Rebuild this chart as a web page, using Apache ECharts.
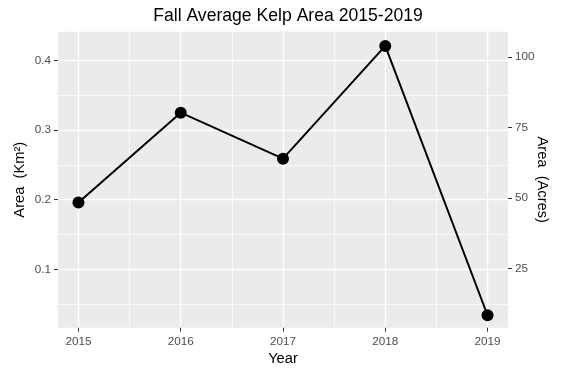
<!DOCTYPE html>
<html>
<head>
<meta charset="utf-8">
<script src="https://cdn.jsdelivr.net/npm/echarts@6/dist/echarts.min.js"></script>
<style>html,body{margin:0;padding:0;background:#fff}#c{width:562px;height:373px}</style>
</head>
<body>
<div id="c"></div>
<script>
var years = [2015, 2016, 2017, 2018, 2019];
var areaKm2 = [0.196, 0.325, 0.259, 0.421, 0.034];
var xTicks = [2015, 2016, 2017, 2018, 2019];
var xMinor = [2015.5, 2016.5, 2017.5, 2018.5];
var yTicks = [0.1, 0.2, 0.3, 0.4];
var yMinor = [0.05, 0.15, 0.25, 0.35];
var acreTicks = [25, 50, 75, 100];
var KM2_TO_ACRES = 247.105;

var yMin = 0.0161, yMax = 0.4414;
var font = "'Liberation Sans', Arial, sans-serif";
var chart = echarts.init(document.getElementById('c'), null, {renderer: 'canvas'});
var labelStyle = {color: '#4D4D4D', fontSize: 11.7, fontFamily: font};
var nameStyle = {color: '#000', fontSize: 14.7, fontFamily: font};

chart.setOption({
  animation: false,
  title: {
    text: 'Fall Average Kelp Area 2015-2019',
    left: 283, top: 2, textAlign: 'center',
    textStyle: {color: '#000', fontSize: 17.6, fontWeight: 'normal', fontFamily: font}
  },
  grid: {left: 58, right: 54, top: 31.7, bottom: 45.3, show: true, backgroundColor: '#EBEBEB', borderWidth: 0,
         containLabel: false, outerBoundsMode: 'none'},
  xAxis: [{
    type: 'value', min: 2014.8, max: 2019.2,
    name: 'Year', nameLocation: 'middle', nameGap: 24, nameMoveOverlap: false, nameTextStyle: nameStyle,
    axisLine: {show: false},
    axisTick: {show: true, length: 4, lineStyle: {color: '#333', width: 1}, customValues: xTicks},
    axisLabel: Object.assign({margin: 8, customValues: xTicks, formatter: function(v){return String(v);}}, labelStyle),
    splitLine: {show: true, lineStyle: {color: '#fff', width: 1.4}}
  }, {
    type: 'value', min: 2014.8, max: 2019.2, position: 'top',
    axisLine: {show: false},
    axisTick: {show: false, customValues: xMinor},
    axisLabel: {show: false, customValues: xMinor},
    splitLine: {show: true, lineStyle: {color: '#fff', width: 0.7}}
  }],
  yAxis: [{
    type: 'value', min: yMin, max: yMax, position: 'left',
    name: 'Area  (Km²)', nameLocation: 'middle', nameRotate: 90, nameGap: 31, nameMoveOverlap: false, nameTextStyle: nameStyle,
    axisLine: {show: false},
    axisTick: {show: true, length: 4, lineStyle: {color: '#333', width: 1}, customValues: yTicks},
    axisLabel: Object.assign({margin: 7, customValues: yTicks, formatter: function(v){return v.toFixed(1);}}, labelStyle),
    splitLine: {show: true, lineStyle: {color: '#fff', width: 1.4}}
  }, {
    type: 'value', min: yMin, max: yMax, position: 'left',
    axisLine: {show: false},
    axisTick: {show: false, customValues: yMinor},
    axisLabel: {show: false, customValues: yMinor},
    splitLine: {show: true, lineStyle: {color: '#fff', width: 0.7}}
  }, {
    type: 'value', min: yMin * KM2_TO_ACRES, max: yMax * KM2_TO_ACRES, position: 'right',
    name: 'Area  (Acres)', nameLocation: 'middle', nameRotate: -90, nameGap: 27, nameMoveOverlap: false, nameTextStyle: nameStyle,
    axisLine: {show: false},
    axisTick: {show: true, length: 4, lineStyle: {color: '#333', width: 1}, customValues: acreTicks},
    axisLabel: Object.assign({margin: 7, customValues: acreTicks, formatter: function(v){return String(Math.round(v));}}, labelStyle),
    splitLine: {show: false}
  }],
  series: [{
    type: 'line',
    xAxisIndex: 0, yAxisIndex: 0,
    data: years.map(function(y, i){ return [y, areaKm2[i]]; }),
    lineStyle: {color: '#000', width: 2},
    itemStyle: {color: '#000'},
    symbol: 'circle', symbolSize: 12,
    showSymbol: true
  }]
});
</script>
</body>
</html>
